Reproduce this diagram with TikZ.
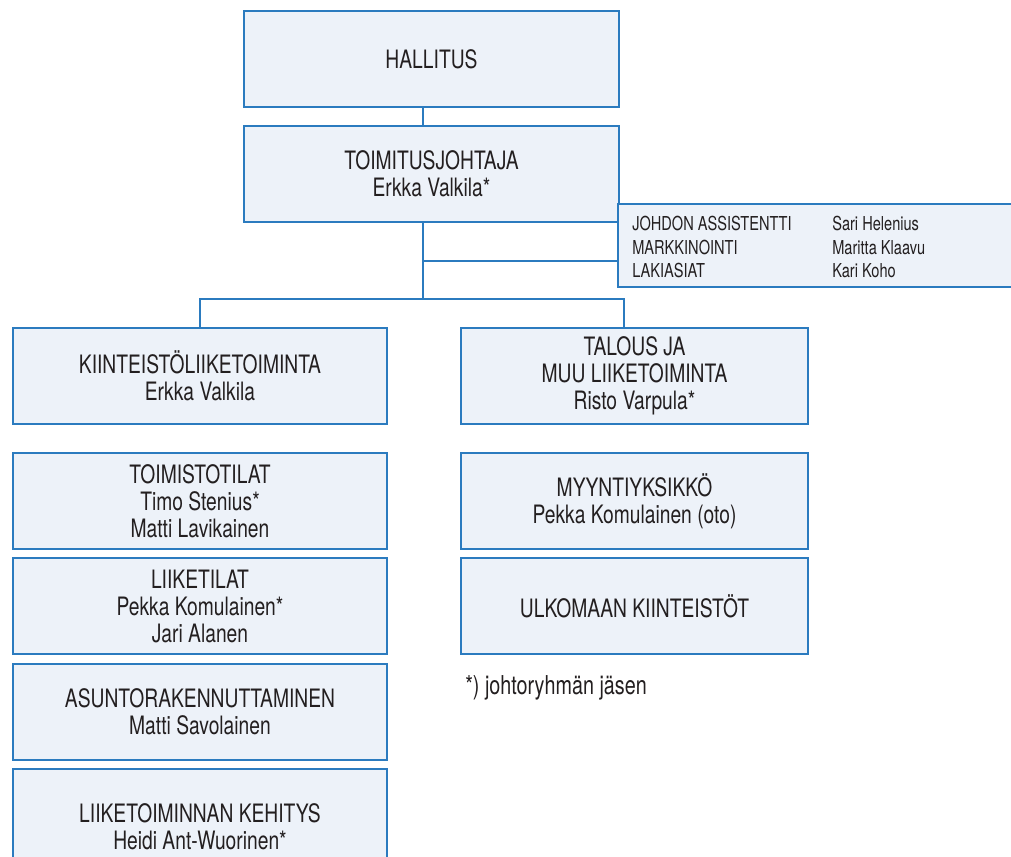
\documentclass[tikz,border=0pt]{standalone}
\usepackage{fontspec}
\setmainfont{TeX Gyre Heros}[FakeStretch=0.76]
\definecolor{bord}{HTML}{2B7BBF}
\definecolor{boxfill}{HTML}{EDF2F9}
\definecolor{txt}{HTML}{231F20}
\tikzset{
  orgbox/.style={draw=bord, fill=boxfill, line width=1.1pt, inner sep=0pt, align=center, text=txt,
    font=\fontsize{19}{20.25}\selectfont},
  wh/.style 2 args={minimum width=#1*0.75pt, minimum height=#2*0.75pt},
  conn/.style={draw=bord, line width=1.1pt},
  sidetext/.style={align=left, anchor=west, inner sep=0pt, text=txt, font=\fontsize{14.4}{17.6}\selectfont},
}
\begin{document}
\begin{tikzpicture}[x=0.75pt, y=-0.75pt]
\useasboundingbox (0,0) rectangle (1011,857);
\clip (0,0) rectangle (1011,857);
\fill[white] (0,0) rectangle (1011,857);

\coordinate (spine) at (423,0);
\node[orgbox, wh={375}{96}] (hall) at (431.5,59) {HALLITUS};
\node[orgbox, wh={375}{96}] (tj) at (431.5,174) {TOIMITUSJOHTAJA\\Erkka Valkila*};
\node[orgbox, wh={394}{83}] (side) at (815,245.5) {};
\node[sidetext] (sideL) at (632,247) {JOHDON ASSISTENTTI\\MARKKINOINTI\\LAKIASIAT};
\node[sidetext] (sideR) at (832,247) {Sari Helenius\\Maritta Klaavu\\Kari Koho};

\node[orgbox, wh={374}{96}] (kiint) at (200,376) {KIINTEISTÖLIIKETOIMINTA\\Erkka Valkila};
\node[orgbox, wh={347}{96}] (talous) at (634.5,376) {TALOUS JA\\MUU LIIKETOIMINTA\\Risto Varpula*};

\node[orgbox, wh={374}{96}] (toim) at (200,501) {TOIMISTOTILAT\\Timo Stenius*\\Matti Lavikainen};
\node[orgbox, wh={374}{96}] (liik) at (200,606) {LIIKETILAT\\Pekka Komulainen*\\Jari Alanen};
\node[orgbox, wh={374}{96}] (asunto) at (200,712) {ASUNTORAKENNUTTAMINEN\\Matti Savolainen};
\node[orgbox, wh={374}{115}] (keh) at (200,826.5) {LIIKETOIMINNAN KEHITYS\\Heidi Ant-Wuorinen*};

\node[orgbox, wh={347}{96}] (myynti) at (634.5,501) {MYYNTIYKSIKKÖ\\Pekka Komulainen (oto)};
\node[orgbox, wh={347}{96}] (ulko) at (634.5,606) {ULKOMAAN KIINTEISTÖT};

\node[anchor=base west, inner sep=0pt, text=txt, font=\fontsize{19.5}{20}\selectfont] (note) at (465,694) {*) johtoryhmän jäsen};

\coordinate (sj) at (423,261);
\coordinate (split) at (423,299);
\coordinate (rb) at (624,299);
\draw[conn] (hall.south -| spine) -- (tj.north -| spine);
\draw[conn] (tj.south -| spine) -- (split);
\draw[conn] (sj) -- (sj -| side.west);
\draw[conn] (kiint.north) |- (rb) -- (rb |- talous.north);
\end{tikzpicture}
\end{document}
